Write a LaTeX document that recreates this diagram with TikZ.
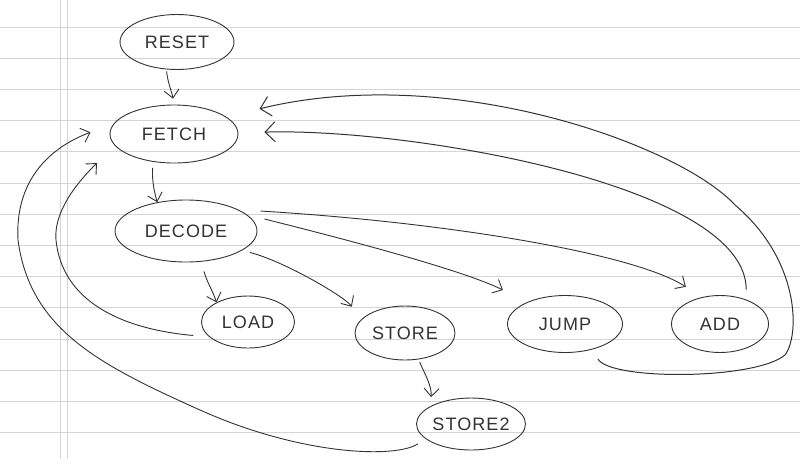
\documentclass[tikz,border=0pt]{standalone}
\usepackage{fontspec}
\setmainfont{Liberation Sans}
\usetikzlibrary{shapes.geometric,arrows.meta}
\definecolor{pencil}{HTML}{333333}
\definecolor{ruling}{HTML}{D4D4D4}
\begin{document}
\begin{tikzpicture}[x=1pt,y=-1pt,
  stnode/.style={draw=pencil,ellipse,line width=0.9pt,inner sep=0pt,text=pencil,
     font=\fontsize{18}{18}\selectfont\addfontfeature{LetterSpace=6}},
  conn/.style={draw=pencil,line width=0.9pt,-{Straight Barb[length=8pt,width=15pt]}},
  bigconn/.style={draw=pencil,line width=1pt,-{Straight Barb[length=10pt,width=20pt]}},
  ruleline/.style={draw=ruling,line width=0.7pt}]
\useasboundingbox (0,0) rectangle (800,459);
\fill[white] (0,0) rectangle (800,459);
\foreach \k in {0,...,13} \draw[ruleline] (0,{27+31.2*\k}) -- (800,{27+31.2*\k});
\draw[ruleline] (60,0) -- (60,459);
\draw[ruleline] (67,0) -- (67,459);

\node[stnode,minimum width=114pt,minimum height=55pt] (reset) at (177,42) {RESET};
\node[stnode,minimum width=128pt,minimum height=58pt] (fetch) at (174,134) {FETCH};
\node[stnode,minimum width=142pt,minimum height=62pt] (decode) at (186,231) {DECODE};
\node[stnode,minimum width=93pt,minimum height=52pt] (load) at (248,322) {LOAD};
\node[stnode,minimum width=100pt,minimum height=54pt] (store) at (405,333) {STORE};
\node[stnode,minimum width=115pt,minimum height=57pt] (jump) at (565,324) {JUMP};
\node[stnode,minimum width=97pt,minimum height=57pt] (add) at (720,324) {ADD};
\node[stnode,minimum width=105pt,minimum height=52pt] (store2) at (471,424) {STORE2};

\draw[conn,shorten <=2pt,shorten >=6pt] (reset.-111) .. controls +(1,12) and +(-2,-12) .. (fetch.90);
\draw[conn,shorten <=6pt] (fetch.-127) .. controls +(-1,16) and +(-4,-14) .. (decode.135);
\draw[conn,shorten <=10pt] (decode.-63) .. controls +(5,20) and +(-4,-12) .. (load.148);
\draw[conn,shorten <=8pt,shorten >=16pt] (decode.-19) .. controls +(45,12) and +(-14,-22) .. (store.164);
\draw[conn,shorten <=18pt,shorten >=27pt] (decode.15) .. controls +(120,30) and +(-60,-30) .. (jump.150);
\draw[conn,shorten <=22pt,shorten >=19pt] (decode.22) .. controls +(200,12) and +(-70,-45) .. (add.124);
\draw[bigconn,shorten <=10pt,shorten >=26pt] (add.43) .. controls +(0,-115) and +(170,-5) .. (fetch.1);
\draw[bigconn,shorten <=11pt,shorten >=34pt] (jump.-43) .. controls +(18,31) and (755,380) .. (785,355)
   .. controls (800,335) and (800,260) .. (735,205) .. controls (680,145) and (450,62) .. (fetch.18);
\draw[conn,shorten <=16pt,shorten >=25pt] (load.-159) .. controls +(-90,-8) and (62,300) .. (56,240)
   .. controls (53,205) and (90,170) .. (fetch.-169);
\draw[conn,shorten <=9pt,shorten >=25pt] (store2.-162) .. controls +(-30,20) and (300,455) .. (200,410)
   .. controls (100,365) and (30,330) .. (18,240) .. controls (14,165) and (70,140) .. (fetch.170);
\draw[conn,shorten <=3pt,shorten >=9pt] (store.-63) .. controls +(8,18) and +(1,-20) .. (store2.156);
\end{tikzpicture}
\end{document}
